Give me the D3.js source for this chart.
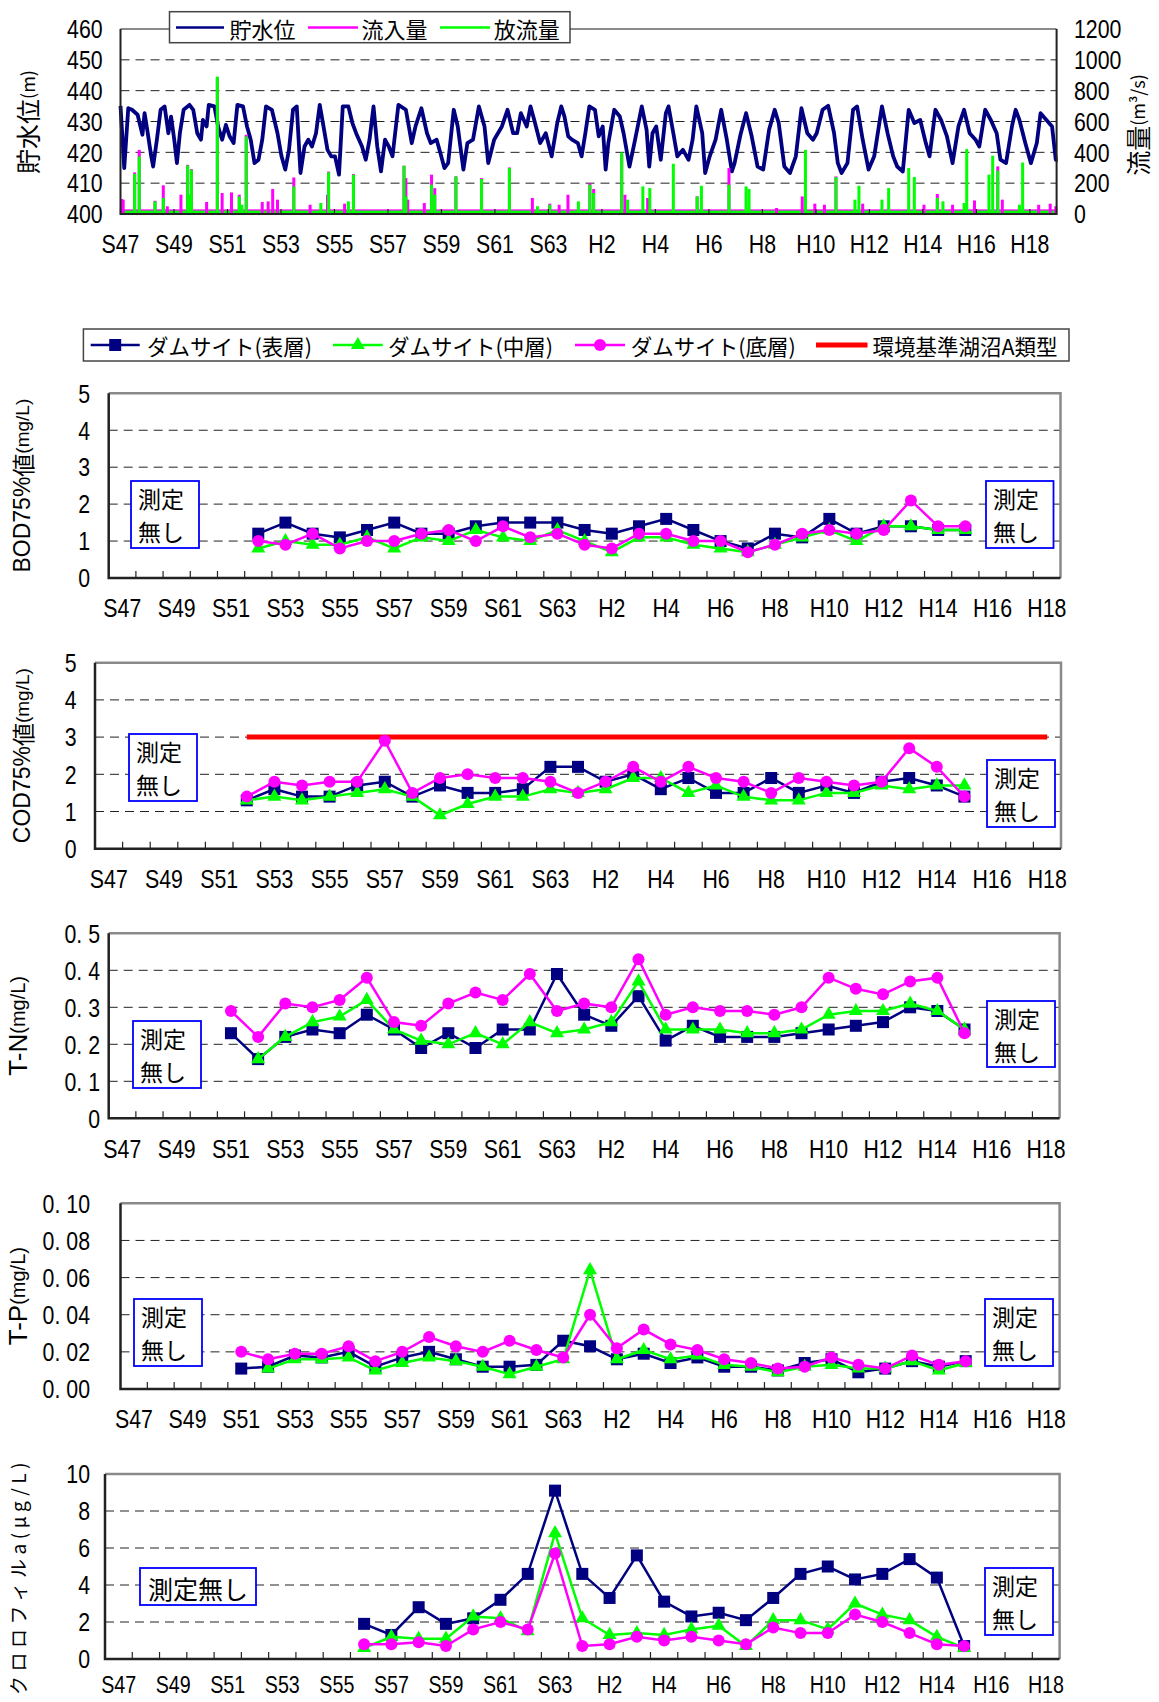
<!DOCTYPE html>
<html><head><meta charset="utf-8">
<script src="https://cdn.jsdelivr.net/npm/d3@7"></script>
<style>body{margin:0;background:#fff}</style>
</head><body><svg id="c" width="1159" height="1702"></svg>
<script>
// ---------------- DATA ----------------
const years = ["S47","S48","S49","S50","S51","S52","S53","S54","S55","S56","S57","S58","S59","S60","S61","S62","S63",
  "H1","H2","H3","H4","H5","H6","H7","H8","H9","H10","H11","H12","H13","H14","H15","H16","H17","H18"];
const xTickLabels = ["S47","S49","S51","S53","S55","S57","S59","S61","S63","H2","H4","H6","H8","H10","H12","H14","H16","H18"];
const N = null;

// top chart: water level [years since S47, m]
const levelData = [[0,435.1],[0.14,414.9],[0.29,434.3],[0.43,433.8],[0.64,432.2],[0.82,425.7],[0.90,432.7],[1.00,427.3],[1.15,418.7],[1.22,415.4],[1.36,424.1],[1.50,433.8],[1.65,434.9],[1.79,426.2],[1.89,431.6],[2.01,424.1],[2.11,416.5],[2.22,426.2],[2.36,433.8],[2.58,435.4],[2.72,433.8],[2.87,426.2],[3.01,424.1],[3.08,430.5],[3.22,428.4],[3.30,435.4],[3.51,434.9],[3.65,428.4],[3.80,424.1],[3.94,428.9],[4.08,425.2],[4.23,423.0],[4.37,435.4],[4.58,434.9],[4.73,428.4],[4.87,424.1],[5.01,416.5],[5.16,417.6],[5.30,424.1],[5.44,434.9],[5.66,433.8],[5.87,426.2],[6.02,418.7],[6.16,414.4],[6.30,420.8],[6.45,433.8],[6.59,434.9],[6.73,413.3],[6.88,421.9],[7.02,424.1],[7.16,421.9],[7.31,426.2],[7.45,435.4],[7.59,428.4],[7.74,420.8],[7.88,418.7],[8.02,418.7],[8.17,412.8],[8.31,434.9],[8.52,434.9],[8.67,429.5],[8.81,426.2],[9.03,421.9],[9.17,417.6],[9.31,424.1],[9.46,434.9],[9.60,421.9],[9.74,413.8],[9.89,424.1],[10.03,421.9],[10.17,418.7],[10.39,435.4],[10.67,433.8],[10.89,423.0],[11.03,428.4],[11.25,434.3],[11.46,426.2],[11.60,423.0],[11.82,424.1],[11.96,419.8],[12.11,414.9],[12.25,416.5],[12.46,433.8],[12.61,428.4],[12.82,414.4],[12.97,423.0],[13.18,424.1],[13.40,434.9],[13.61,428.4],[13.75,416.5],[13.97,424.1],[14.26,428.4],[14.47,433.8],[14.68,426.2],[14.83,426.2],[14.97,432.7],[15.19,428.4],[15.33,434.9],[15.47,430.5],[15.69,423.0],[15.90,426.2],[16.12,418.7],[16.33,429.5],[16.48,434.9],
[16.60,431.6],[16.74,425.2],[16.88,424.1],[17.10,423.0],[17.24,418.7],[17.38,426.2],[17.53,434.9],[17.74,433.8],[17.88,425.2],[18.03,428.4],[18.14,414.4],[18.24,423.0],[18.46,433.8],[18.67,431.6],[18.81,426.2],[19.03,415.4],[19.24,424.1],[19.49,434.9],[19.67,427.3],[19.77,415.4],[19.89,426.2],[20.03,428.4],[20.20,417.6],[20.39,432.7],[20.49,434.9],[20.67,426.2],[20.82,418.7],[21.03,420.8],[21.24,417.6],[21.39,424.1],[21.53,434.9],[21.75,426.2],[21.86,413.3],[22.03,418.7],[22.25,424.1],[22.46,433.8],[22.67,424.1],[22.86,413.8],[22.96,416.5],[23.18,425.7],[23.39,432.7],[23.60,425.2],[23.82,415.4],[24.03,414.4],[24.25,427.3],[24.46,433.8],[24.61,429.5],[24.82,415.4],[25.03,413.3],[25.25,418.7],[25.46,434.3],[25.68,426.2],[25.89,424.1],[26.03,426.2],[26.25,433.8],[26.46,435.1],[26.68,426.2],[26.82,416.5],[26.96,413.3],[27.18,416.5],[27.39,433.8],[27.54,434.9],[27.75,424.1],[27.97,414.4],[28.18,418.7],[28.47,434.9],[28.68,426.2],[28.89,418.7],[29.04,415.4],[29.25,413.8],[29.47,433.8],[29.68,429.5],[29.90,430.5],[30.11,423.0],[30.25,418.7],[30.47,433.8],[30.68,430.5],[30.90,425.2],[31.11,416.5],[31.33,428.4],[31.54,433.8],[31.75,426.2],[31.97,424.1],[32.11,421.9],[32.33,433.8],[32.54,430.5],[32.76,426.2],[32.90,417.6],[33.11,416.5],[33.33,428.4],[33.47,433.8],[33.61,430.5],[33.83,423.0],[34.04,416.5],[34.26,423.0],[34.40,432.7],[34.62,430.5],[34.83,428.4],[34.97,417.6],[35.04,417.6]];

// top chart: flow peaks [years since S47, m3/s]
const inflowPeaks = [[0.04,97],[0.10,93],[0.53,270],[0.70,416],[1.29,86],[1.60,186],[1.75,50],[2.26,125],[2.51,319],[2.58,125],[2.65,291],[3.22,78],[3.62,887],[3.80,136],[4.15,140],[4.44,125],[4.70,514],[5.30,78],[5.52,82],[5.69,162],[5.87,93],[6.48,237],[7.09,60],[7.74,125],[7.78,275],[8.38,67],[8.71,259],[10.60,313],[10.67,233],[10.74,93],[11.36,71],[11.63,255],[11.75,168],[12.54,244],[13.50,233],[14.54,302],[15.40,104],[16.05,67],[16.40,60],[16.73,125],[17.55,200],[17.69,162],[18.74,390],[18.86,125],[19.71,104],[21.56,114],[22.75,298],[24.53,39],[25.49,114],[25.96,67],[26.32,60],[26.75,244],[27.75,67],[30.04,60],[30.54,130],[31.11,60],[31.93,88],[32.80,309],[32.97,93],[34.33,60],[34.76,67],[34.97,50]];
const outflowPeaks = [[0.53,261],[0.70,373],[1.29,82],[1.60,104],[2.51,315],[2.58,125],[2.65,287],[3.62,891],[4.44,114],[4.54,60],[4.70,503],[6.48,179],[7.49,71],[7.78,270],[8.52,82],[8.71,255],[10.60,313],[10.67,114],[11.63,190],[11.75,125],[12.54,244],[13.50,227],[14.54,298],[15.59,50],[16.05,60],[17.12,82],[17.55,190],[17.69,136],[18.74,399],[18.96,93],[19.53,179],[19.79,168],[20.67,326],[21.56,114],[21.72,183],[22.75,190],[23.39,179],[23.50,162],[25.61,416],[26.75,240],[27.46,93],[27.61,183],[28.47,93],[28.72,168],[29.47,298],[29.68,240],[30.54,104],[30.75,82],[31.54,71],[31.64,421],[32.47,255],[32.61,378],[32.80,281],[33.61,60],[33.73,334]];
const baseFlow = {inflow:30, outflow:22};
const levelTicks = [400,410,420,430,440,450,460];
const flowTicks = [0,200,400,600,800,1000,1200];

// water quality (index aligned with years)
const bodSurface = [N,N,N,N,N,1.2,1.5,1.2,1.1,1.3,1.5,1.2,1.2,1.4,1.5,1.5,1.5,1.3,1.2,1.4,1.6,1.3,1.0,0.8,1.2,1.1,1.6,1.2,1.4,1.4,1.3,1.3,N,N,N];
const bodMiddle  = [N,N,N,N,N,0.8,1.0,0.9,0.9,1.1,0.8,1.1,1.0,1.3,1.1,1.0,1.3,1.0,0.7,1.1,1.1,0.9,0.8,0.7,0.9,1.1,1.3,1.0,1.4,1.4,1.3,1.3,N,N,N];
const bodBottom  = [N,N,N,N,N,1.0,0.9,1.2,0.8,1.0,1.0,1.2,1.3,1.0,1.4,1.1,1.2,0.9,0.8,1.2,1.2,1.0,1.0,0.7,0.9,1.2,1.3,1.2,1.3,2.1,1.4,1.4,N,N,N];

const codSurface = [N,N,N,N,N,1.3,1.6,1.4,1.4,1.7,1.8,1.4,1.7,1.5,1.5,1.6,2.2,2.2,1.8,2.0,1.6,1.9,1.5,1.5,1.9,1.5,1.7,1.5,1.8,1.9,1.7,1.4,N,N,N];
const codMiddle  = [N,N,N,N,N,1.3,1.4,1.3,1.4,1.5,1.6,1.4,0.9,1.2,1.4,1.4,1.6,1.5,1.6,1.9,1.9,1.5,1.7,1.4,1.3,1.3,1.5,1.5,1.7,1.6,1.7,1.7,N,N,N];
const codBottom  = [N,N,N,N,N,1.4,1.8,1.7,1.8,1.8,2.9,1.5,1.9,2.0,1.9,1.9,1.8,1.5,1.8,2.2,1.8,2.2,1.9,1.8,1.5,1.9,1.8,1.7,1.8,2.7,2.2,1.4,N,N,N];
const codStandard = [N,N,N,N,N,3,3,3,3,3,3,3,3,3,3,3,3,3,3,3,3,3,3,3,3,3,3,3,3,3,3,3,3,3,3];

const tnSurface = [N,N,N,N,0.23,0.16,0.22,0.24,0.23,0.28,0.24,0.19,0.23,0.19,0.24,0.24,0.39,0.28,0.25,0.33,0.21,0.25,0.22,0.22,0.22,0.23,0.24,0.25,0.26,0.30,0.29,0.24,N,N,N];
const tnMiddle  = [N,N,N,N,N,0.16,0.22,0.26,0.275,0.32,0.24,0.21,0.20,0.23,0.20,0.26,0.23,0.24,0.26,0.37,0.24,0.24,0.24,0.23,0.23,0.24,0.28,0.29,0.29,0.31,0.29,0.24,N,N,N];
const tnBottom  = [N,N,N,N,0.29,0.22,0.31,0.30,0.32,0.38,0.26,0.25,0.31,0.34,0.32,0.39,0.29,0.31,0.30,0.43,0.28,0.30,0.29,0.29,0.28,0.30,0.38,0.35,0.335,0.37,0.38,0.23,N,N,N];

const tpSurface = [N,N,N,N,0.011,0.012,0.018,0.017,0.020,0.012,0.017,0.020,0.016,0.012,0.012,0.013,0.026,0.023,0.016,0.019,0.014,0.017,0.012,0.012,0.010,0.014,0.016,0.009,0.011,0.015,0.012,0.015,N,N,N];
const tpMiddle  = [N,N,N,N,N,0.011,0.016,0.016,0.017,0.010,0.014,0.017,0.015,0.012,0.008,0.012,0.016,0.064,0.016,0.021,0.016,0.018,0.013,0.012,0.009,0.012,0.013,0.011,0.011,0.015,0.010,0.014,N,N,N];
const tpBottom  = [N,N,N,N,0.020,0.016,0.019,0.019,0.023,0.015,0.020,0.028,0.023,0.020,0.026,0.021,0.017,0.040,0.022,0.032,0.024,0.021,0.016,0.014,0.011,0.012,0.017,0.013,0.011,0.018,0.013,0.015,N,N,N];

const chlSurface = [N,N,N,N,N,N,N,N,N,1.9,1.3,2.8,1.9,2.2,3.2,4.6,9.1,4.6,3.3,5.6,3.1,2.3,2.5,2.1,3.3,4.6,5.0,4.3,4.6,5.4,4.4,0.7,N,N,N];
const chlMiddle  = [N,N,N,N,N,N,N,N,N,0.6,1.2,1.1,1.1,2.3,2.2,1.5,6.8,2.2,1.3,1.4,1.3,1.6,1.8,0.7,2.1,2.1,1.6,3.0,2.4,2.1,1.2,0.6,N,N,N];
const chlBottom  = [N,N,N,N,N,N,N,N,N,0.8,0.8,0.9,0.7,1.6,2.0,1.6,5.7,0.7,0.8,1.2,1.0,1.2,1.0,0.8,1.7,1.4,1.4,2.4,2.0,1.4,0.8,0.7,N,N,N];

const bodTicks = [0,1,2,3,4,5], bodTickLabels = ["0","1","2","3","4","5"];
const tnTicks = [0,0.1,0.2,0.3,0.4,0.5], tnTickLabels = ["0","0. 1","0. 2","0. 3","0. 4","0. 5"];
const tpTicks = [0,0.02,0.04,0.06,0.08,0.10], tpTickLabels = ["0. 00","0. 02","0. 04","0. 06","0. 08","0. 10"];
const chlTicks = [0,2,4,6,8,10], chlTickLabels = ["0","2","4","6","8","10"];

// ---------------- DRAW ----------------
const svg = d3.select("#c");
svg.append("rect").attr("width",1159).attr("height",1702).attr("fill","#fff");
const LAT = '"Liberation Sans",Arial,sans-serif';
const JP = '"Noto Sans CJK JP","Noto Sans CJK SC",sans-serif';
const C = {surface:"#000080", middle:"#00ff00", bottom:"#ff00ff", std:"#ff0000", box:"#0000ff", grid:"#222", frame:"#8a8a8a", axis:"#222"};
const SX = 0.82;

function narrow(sel, fx, fy, anchor, fs){
  return sel.attr("transform",(d,i)=>`translate(${fx(d,i)},${fy(d,i)}) scale(${SX},1)`)
    .attr("text-anchor",anchor).attr("dominant-baseline","central")
    .attr("font-family",LAT).attr("font-size",fs||26);
}

// ---- top chart ----
(function(){
  const T = {left:120.5, right:1056.6, top:29, bottom:214};
  const xT = d3.scaleLinear().domain([0,35]).range([T.left,T.right]);
  const yL = d3.scaleLinear().domain([400,460]).range([T.bottom,T.top]);
  const yF = d3.scaleLinear().domain([0,1200]).range([T.bottom,T.top]);
  const g = svg.append("g");
  g.selectAll(".gr").data(levelTicks.slice(1,-1)).join("line")
    .attr("x1",T.left).attr("x2",T.right).attr("y1",d=>yL(d)).attr("y2",d=>yL(d))
    .attr("stroke",C.grid).attr("stroke-width",1).attr("stroke-dasharray","9,6");
  g.append("line").attr("x1",T.left).attr("x2",T.right).attr("y1",T.top).attr("y2",T.top).attr("stroke",C.frame).attr("stroke-width",2);
  g.append("path").datum(levelData)
    .attr("d", d3.line().x(d=>xT(d[0])).y(d=>yL(d[1])))
    .attr("fill","none").attr("stroke",C.surface).attr("stroke-width",3.8).attr("stroke-linejoin","round");
  g.append("rect").attr("x",T.left).attr("width",T.right-T.left).attr("y",yF(baseFlow.inflow)).attr("height",T.bottom-yF(baseFlow.inflow)).attr("fill",C.bottom);
  g.append("rect").attr("x",T.left).attr("width",T.right-T.left).attr("y",yF(baseFlow.outflow)).attr("height",T.bottom-yF(baseFlow.outflow)).attr("fill",C.middle);
  g.selectAll(".inf").data(inflowPeaks).join("line")
    .attr("x1",d=>xT(d[0])).attr("x2",d=>xT(d[0])).attr("y1",T.bottom).attr("y2",d=>yF(d[1]))
    .attr("stroke",C.bottom).attr("stroke-width",3);
  g.selectAll(".outf").data(outflowPeaks).join("line")
    .attr("x1",d=>xT(d[0])).attr("x2",d=>xT(d[0])).attr("y1",T.bottom).attr("y2",d=>yF(d[1]))
    .attr("stroke",C.middle).attr("stroke-width",3);
  g.append("path").attr("d",`M${T.left},${T.top}V${T.bottom}H${T.right}V${T.top}`).attr("fill","none").attr("stroke",C.axis).attr("stroke-width",2);
  g.selectAll(".xtk").data(d3.range(0,35,2)).join("line")
    .attr("x1",d=>xT(d)).attr("x2",d=>xT(d)).attr("y1",T.bottom).attr("y2",T.bottom-5).attr("stroke",C.axis).attr("stroke-width",1.2);
  narrow(g.selectAll(".yl").data(levelTicks).join("text"), ()=>102.6, d=>yL(d), "end").text(d=>d);
  narrow(g.selectAll(".yr").data(flowTicks).join("text"), ()=>1074, d=>yF(d), "start").text(d=>d);
  narrow(g.selectAll(".xl").data(xTickLabels).join("text"), (d,i)=>xT(i*2), ()=>244, "middle").text(d=>d);
  const tl = g.append("text").attr("transform","translate(27,122) rotate(-90)").attr("text-anchor","middle").attr("dominant-baseline","central").attr("font-family",JP);
  tl.append("tspan").attr("font-size",25).text("貯水位");
  tl.append("tspan").attr("font-size",18).text("(m)");
  const tr = g.append("text").attr("transform","translate(1137,125) rotate(-90)").attr("text-anchor","middle").attr("dominant-baseline","central").attr("font-family",JP);
  tr.append("tspan").attr("font-size",25).text("流量");
  tr.append("tspan").attr("font-size",18).text("(m³/s)");
  const lg = g.append("g");
  lg.append("rect").attr("x",169.5).attr("y",11.7).attr("width",400.5).attr("height",31).attr("fill","#fff").attr("stroke","#444").attr("stroke-width",1.5);
  const items = [[176,224,229.6,C.surface,"貯水位"],[308,358,361.6,C.bottom,"流入量"],[440,490,493.7,C.middle,"放流量"]];
  items.forEach(it=>{
    lg.append("line").attr("x1",it[0]).attr("x2",it[1]).attr("y1",27.5).attr("y2",27.5).attr("stroke",it[3]).attr("stroke-width",2.5);
    lg.append("text").attr("x",it[2]).attr("y",27.5).attr("dominant-baseline","central").attr("font-family",JP).attr("font-size",22).text(it[4]);
  });
})();

function marker(g, shape, cx, cy, color){
  if(shape==="square") g.append("rect").attr("x",cx-6).attr("y",cy-6).attr("width",12).attr("height",12).attr("fill",color);
  else if(shape==="triangle") g.append("path").attr("d",d3.symbol(d3.symbolTriangle,85)()).attr("transform",`translate(${cx},${cy})`).attr("fill",color);
  else g.append("circle").attr("cx",cx).attr("cy",cy).attr("r",6).attr("fill",color);
}

// ---- legend for quality panels ----
(function(){
  const g = svg.append("g");
  g.append("rect").attr("x",83.4).attr("y",329).attr("width",985.6).attr("height",32).attr("fill","#fff").attr("stroke","#444").attr("stroke-width",1.5);
  const cy = 345;
  const items = [[90.7,139.7,147,C.surface,"square","ダムサイト(表層)"],[333,382.7,388,C.middle,"triangle","ダムサイト(中層)"],[575,625,630.7,C.bottom,"circle","ダムサイト(底層)"]];
  items.forEach(it=>{
    g.append("line").attr("x1",it[0]).attr("x2",it[1]).attr("y1",cy).attr("y2",cy).attr("stroke",it[3]).attr("stroke-width",2.5);
    marker(g,it[4],(it[0]+it[1])/2,cy,it[3]);
    g.append("text").attr("x",it[2]).attr("y",cy).attr("dominant-baseline","central").attr("font-family",JP).attr("font-size",21.5).text(it[5]);
  });
  g.append("line").attr("x1",816).attr("x2",867.5).attr("y1",cy).attr("y2",cy).attr("stroke",C.std).attr("stroke-width",5);
  g.append("text").attr("x",872.5).attr("y",cy).attr("dominant-baseline","central").attr("font-family",JP).attr("font-size",21.5).text("環境基準湖沼A類型");
})();

// ---- quality panel ----
function panel(cfg){
  const g = svg.append("g");
  const x = d3.scaleBand().domain(years).range([cfg.left,cfg.right]);
  const y = d3.scaleLinear().domain([0,cfg.ticks[cfg.ticks.length-1]]).range([cfg.bottom,cfg.top]);
  const cx = i => x(years[i]) + x.bandwidth()/2;
  g.selectAll(".gr").data(cfg.ticks.slice(1,-1)).join("line")
    .attr("x1",cfg.left).attr("x2",cfg.right).attr("y1",d=>y(d)).attr("y2",d=>y(d))
    .attr("stroke",C.grid).attr("stroke-width",1).attr("stroke-dasharray","9,6");
  g.append("path").attr("d",`M${cfg.left},${cfg.top}H${cfg.right}V${cfg.bottom}`).attr("fill","none").attr("stroke",C.frame).attr("stroke-width",2.5);
  g.append("path").attr("d",`M${cfg.left},${cfg.top}V${cfg.bottom}H${cfg.right}`).attr("fill","none").attr("stroke",C.axis).attr("stroke-width",2.5);
  g.selectAll(".xt").data(years.slice(1)).join("line")
    .attr("x1",d=>x(d)).attr("x2",d=>x(d)).attr("y1",cfg.bottom).attr("y2",cfg.bottom-7).attr("stroke",C.axis).attr("stroke-width",1.2);
  narrow(g.selectAll(".xl").data(xTickLabels).join("text"), d=>x(d)+x.bandwidth()/2, ()=>cfg.bottom+(cfg.xLabelDy||30), "middle", cfg.xLabelFs).text(d=>d);
  narrow(g.selectAll(".yl").data(cfg.ticks).join("text"), ()=>cfg.labelX, d=>y(d), "end").text((d,i)=>cfg.tickLabels[i]);
  if(cfg.standard){
    g.append("path").datum(cfg.standard)
      .attr("d",d3.line().defined(d=>d!=null).x((d,i)=>cx(i)).y(d=>y(d)))
      .attr("fill","none").attr("stroke",C.std).attr("stroke-width",5);
  }
  const series = [[cfg.surface,C.surface,"square"],[cfg.middle,C.middle,"triangle"],[cfg.bottomS,C.bottom,"circle"]];
  series.forEach(s=>{
    g.append("path").datum(s[0])
      .attr("d",d3.line().defined(d=>d!=null).x((d,i)=>cx(i)).y(d=>y(d)))
      .attr("fill","none").attr("stroke",s[1]).attr("stroke-width",2.5);
    s[0].forEach((v,i)=>{ if(v!=null) marker(g,s[2],cx(i),y(v),s[1]); });
  });
  cfg.boxes.forEach(b=>{
    g.append("rect").attr("x",b[0]).attr("y",b[1]).attr("width",b[2]).attr("height",b[3]).attr("fill","#fff").attr("stroke",C.box).attr("stroke-width",1.8);
    if(b[3]>50){
      const t = g.append("text").attr("font-family",JP).attr("font-size",23).attr("dominant-baseline","central");
      t.append("tspan").attr("x",b[0]+7).attr("y",b[1]+16.5).text("測定");
      t.append("tspan").attr("x",b[0]+7).attr("y",b[1]+50).text("無し");
    } else {
      g.append("text").attr("x",b[0]+b[2]/2).attr("y",b[1]+b[3]/2+1).attr("text-anchor","middle").attr("dominant-baseline","central").attr("font-family",JP).attr("font-size",25).text("測定無し");
    }
  });
  const t = g.append("text").attr("transform",`translate(${cfg.titleX},${(cfg.top+cfg.bottom)/2 + (cfg.titleDy||0)}) rotate(-90)`)
    .attr("text-anchor","middle").attr("dominant-baseline","central");
  cfg.title.forEach(p=>{
    const ts = t.append("tspan").attr("font-family",p[1]).attr("font-size",p[2]).text(p[0]);
    if(p[3]) ts.attr("letter-spacing",p[3]);
  });
}

panel({left:108.7,right:1060.5,top:393.3,bottom:578,labelX:90,ticks:bodTicks,tickLabels:bodTickLabels,
  surface:bodSurface,middle:bodMiddle,bottomS:bodBottom,
  boxes:[[131,481,68,67],[986,481,67.5,67]],titleX:22,
  title:[["BOD75%",LAT,23],["値",JP,23],["(mg/L)",LAT,19]]});
panel({left:95,right:1061,top:662.7,bottom:848.7,labelX:76.5,ticks:bodTicks,tickLabels:bodTickLabels,
  surface:codSurface,middle:codMiddle,bottomS:codBottom,standard:codStandard,
  boxes:[[129,734,68,67],[987,760,68,67]],titleX:22,
  title:[["COD75%",LAT,23],["値",JP,23],["(mg/L)",LAT,19]]});
panel({left:108.7,right:1059.6,top:933.3,bottom:1118.3,labelX:100,ticks:tnTicks,tickLabels:tnTickLabels,
  surface:tnSurface,middle:tnMiddle,bottomS:tnBottom,
  boxes:[[133,1021,68,67],[987,1001,68,66]],titleX:18,
  title:[["T-N",LAT,26],["(mg/L)",LAT,20]]});
panel({left:120.5,right:1059.6,top:1203.3,bottom:1389,labelX:90,ticks:tpTicks,tickLabels:tpTickLabels,
  surface:tpSurface,middle:tpMiddle,bottomS:tpBottom,
  boxes:[[134,1299,68,67],[985,1299,68,67]],titleX:18,
  title:[["T-P",LAT,26],["(mg/L)",LAT,20]]});
panel({left:105,right:1059.6,top:1474,bottom:1659,labelX:90,ticks:chlTicks,tickLabels:chlTickLabels,
  surface:chlSurface,middle:chlMiddle,bottomS:chlBottom,xLabelDy:26,xLabelFs:24,
  boxes:[[140,1568,116,37],[985,1568,68,67]],titleX:17,titleDy:10,
  title:[["クロロフィルa(μg/L)",JP,19,4.5]]});
</script></body></html>
